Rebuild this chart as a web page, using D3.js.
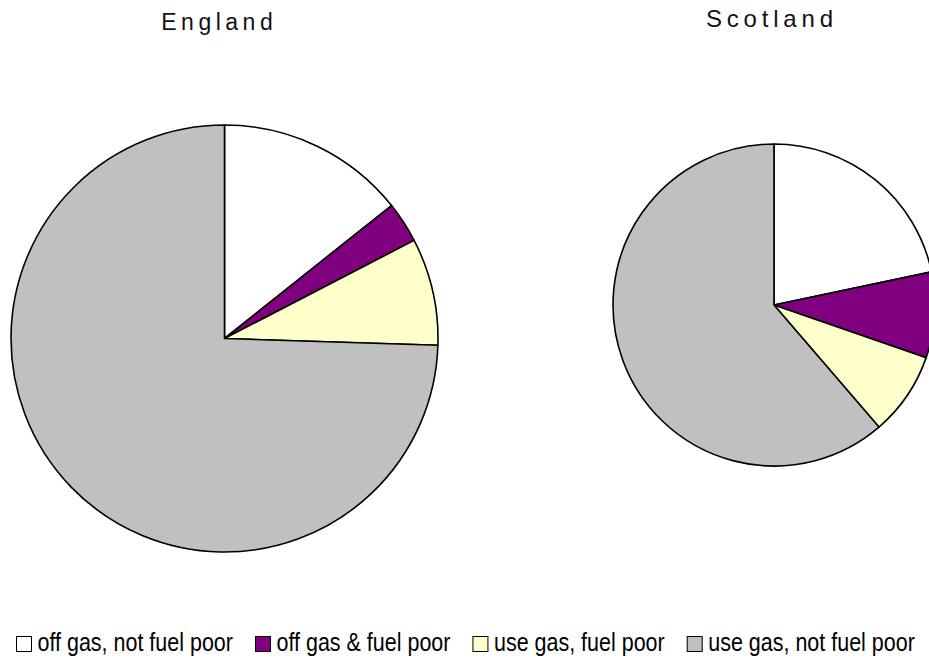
<!DOCTYPE html>
<html><head><meta charset="utf-8">
<script src="https://cdn.jsdelivr.net/npm/d3@7"></script>
<style>
html,body{margin:0;padding:0;background:#fff;overflow:hidden;}
svg{display:block;}
</style>
</head><body>
<svg id="chart" width="929" height="661"></svg>
<script>
const categories = ["off gas, not fuel poor", "off gas & fuel poor", "use gas, fuel poor", "use gas, not fuel poor"];
const colors = ["#ffffff", "#800080", "#ffffcc", "#c0c0c0"];
const regions = ["England", "Scotland"];
const englandValues = [14.3, 3.1, 8.1, 74.5];
const scotlandValues = [21.7, 8.6, 8.4, 61.3];

const svg = d3.select("#chart");
const pies = [
  {name: regions[0], values: englandValues, cx: 224.5, cy: 338.5, r: 213.5, tx: 217, ty: 29.5, fs: 23, ls: 4.5},
  {name: regions[1], values: scotlandValues, cx: 774, cy: 305, r: 161, tx: 769.5, ty: 26.5, fs: 24, ls: 4.8}
];
const pie = d3.pie().sort(null).value(d => d);
pies.forEach(p => {
  const arc = d3.arc().innerRadius(0).outerRadius(p.r);
  const g = svg.append("g").attr("transform", `translate(${p.cx},${p.cy})`);
  g.selectAll("path").data(pie(p.values)).join("path")
    .attr("d", arc)
    .attr("fill", (d, i) => colors[i])
    .attr("stroke", "#000").attr("stroke-width", 1.6).attr("stroke-linejoin", "round");
  svg.append("text").attr("x", p.tx + p.ls / 2).attr("y", p.ty)
    .attr("text-anchor", "middle")
    .style("font-family", "Liberation Sans, Arial, sans-serif")
    .style("font-size", p.fs + "px").style("letter-spacing", p.ls + "px")
    .attr("fill", "#111").text(p.name);
});

// legend: narrow-looking font via horizontal compression
const narrow = 0.86, sq = 16, sqGap = 5.5, x0 = 16, x1 = 915, base = 651;
const lg = svg.append("g");
const texts = categories.map(c => lg.append("text")
  .style("font-family", "Liberation Sans, Arial, sans-serif")
  .style("font-size", "25px").attr("fill", "#000").attr("x", 0).attr("y", 0).text(c));
const widths = texts.map(t => t.node().getComputedTextLength() * narrow);
const totalText = d3.sum(widths);
const gap = (x1 - x0 - categories.length * (sq + sqGap) - totalText) / (categories.length - 1);
let x = x0;
categories.forEach((c, i) => {
  lg.append("rect").attr("x", x + 0.5).attr("y", base - sq + 1.5).attr("width", sq - 1).attr("height", sq - 1)
    .attr("fill", colors[i]).attr("stroke", "#000").attr("stroke-width", 1);
  texts[i].attr("transform", `translate(${x + sq + sqGap},${base}) scale(${narrow},1)`);
  x += sq + sqGap + widths[i] + gap;
});
</script>
</body></html>
